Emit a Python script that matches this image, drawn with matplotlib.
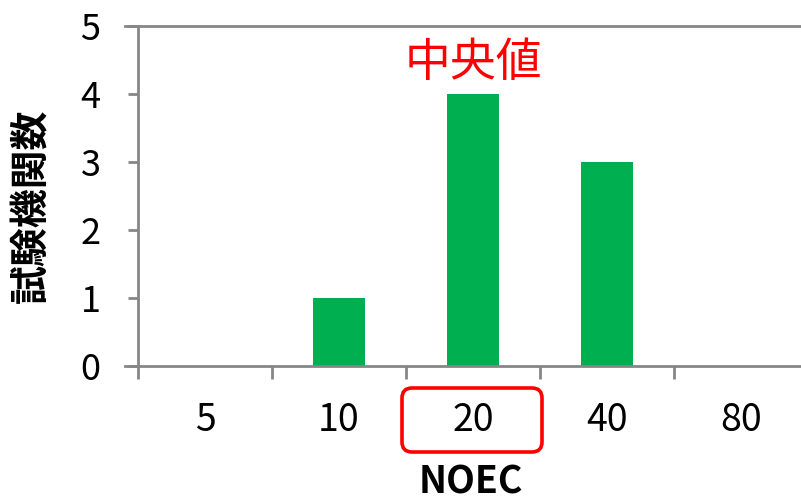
import numpy as np
import matplotlib.pyplot as plt
from matplotlib.patches import FancyBboxPatch

plt.rcParams['font.family'] = ['Noto Sans CJK JP', 'DejaVu Sans']

# NOEC classes and number of labs
noec_labels = ["5", "10", "20", "40", "80"]
lab_counts = [0, 1, 4, 3, 0]

green = "#00B050"
gray = "#868686"

fig = plt.figure(figsize=(8.01, 5.03), dpi=100)
ax = fig.add_axes([138 / 801, 137 / 503, 670 / 801, 340 / 503])

x = np.arange(len(noec_labels))
ax.bar(x, lab_counts, width=0.39, color=green, zorder=2)

ax.set_xlim(-0.5, len(noec_labels) - 0.5)
ax.set_ylim(0, 5)

# spines
for s in ["top", "right", "bottom"]:
    ax.spines[s].set_visible(False)
ax.spines["left"].set_color(gray)
ax.spines["left"].set_linewidth(2)

# x axis line and top line, both running a bit past the y axis
tr = ax.get_yaxis_transform()
ax.plot([-0.02, 1.02], [0, 0], color=gray, lw=2, transform=tr, clip_on=False, zorder=3)
ax.plot([-0.02, 1.02], [5, 5], color=gray, lw=2, transform=tr, clip_on=False, zorder=3)

# y ticks
ax.set_yticks(range(0, 6))
ax.tick_params(axis="y", length=7, width=2, color=gray, pad=20, labelsize=26)

# x ticks: marks on category boundaries, labels at centres
ax.set_xticks(np.arange(-0.5, len(noec_labels), 1.0))
ax.set_xticklabels([])
ax.tick_params(axis="x", which="major", length=9.5, width=2, color=gray)
ax.set_xticks(x, minor=True)
ax.set_xticklabels(noec_labels, minor=True)
ax.tick_params(axis="x", which="minor", length=0, pad=25, labelsize=27)

ax.set_xlabel("NOEC", fontsize=27, fontweight="bold")
ax.xaxis.set_label_coords(0.496, -0.285)
ax.set_ylabel("試験機関数", fontsize=28, fontweight="bold")
ax.yaxis.set_label_coords(-0.13, 0.47)

# median annotation
ax.text(2, 4.46, "中央値", color="red", fontsize=33, ha="center", va="center")

box = FancyBboxPatch((402 / 801, 51 / 503), 140 / 801, 64 / 503,
                     boxstyle="round,pad=0,rounding_size=0.0125",
                     mutation_aspect=801 / 503,
                     transform=fig.transFigure, fill=False,
                     edgecolor="red", linewidth=2.6, clip_on=False)
fig.patches.append(box)

fig.savefig("out.png", dpi=100)
